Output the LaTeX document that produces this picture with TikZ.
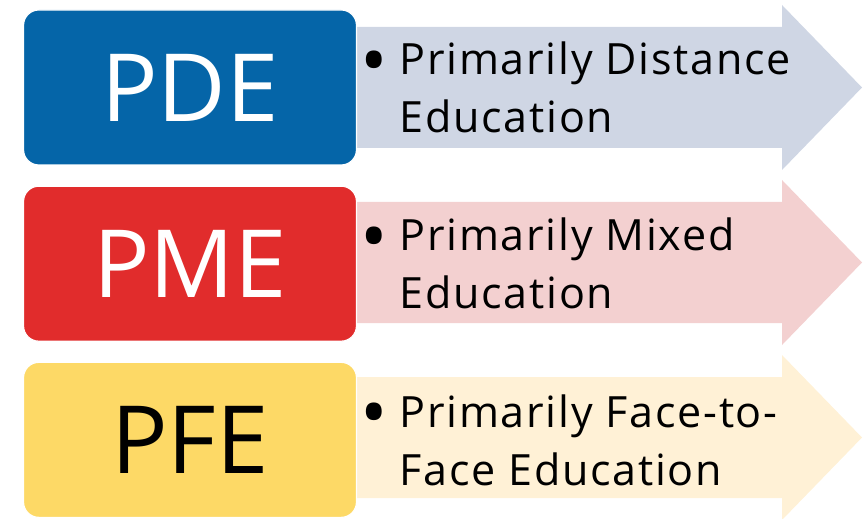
\documentclass[tikz,border=0pt]{standalone}
\usepackage{fontspec}
\setmainfont{Open Sans}
\usetikzlibrary{positioning}
\definecolor{pdeblue}{HTML}{0565A8}
\definecolor{pmered}{HTML}{E12C2C}
\definecolor{pfeyellow}{HTML}{FDD966}
\definecolor{pdeband}{HTML}{CFD6E4}
\definecolor{pmeband}{HTML}{F3D0D0}
\definecolor{pfeband}{HTML}{FFF1D6}
\newcommand{\itembullet}{\llap{\raisebox{-0.27em}{\scalebox{1.7}{\textbullet}}\hspace{10pt}}}
\tikzstyle{tag} = [rectangle, rounded corners=13pt, minimum width=283pt, minimum height=131.75pt, draw=white, line width=1pt, text centered, font=\fontsize{80}{96}\selectfont]
\tikzstyle{item} = [inner sep=0pt, align=left, font=\fontsize{36.6}{49.3}\selectfont\addfontfeatures{LetterSpace=4}]

\begin{document}
\begin{tikzpicture}[x=0.85pt, y=0.85pt]
\useasboundingbox (0,0) rectangle (863,518);

% arrows behind the boxes
\fill[pdeband] (355,491) -- (782,491) -- (782,513) -- (862,430.5) -- (782,348) -- (782,370) -- (355,370) -- cycle;
\fill[pmeband] (355,316) -- (782,316) -- (782,338) -- (862,255.5) -- (782,173) -- (782,195) -- (355,195) -- cycle;
\fill[pfeband] (355,141) -- (782,141) -- (782,163) -- (862,80.5) -- (782,-2) -- (782,20) -- (355,20) -- cycle;

\node[tag, fill=pdeblue, text=white] (pde) at (190,430.5) {PDE};
\node[tag, fill=pmered, text=white, below=17pt of pde] (pme) {PME};
\node[tag, fill=pfeyellow, text=black, below=17pt of pme] (pfe) {PFE};

\node[item, right=36pt of pde] (pdetext) {\itembullet Primarily Distance\\Education};
\node[item, right=36pt of pme] (pmetext) {\itembullet Primarily Mixed\\Education};
\node[item, right=36pt of pfe] (pfetext) {\itembullet Primarily Face-to-\\Face Education};

\end{tikzpicture}
\end{document}
